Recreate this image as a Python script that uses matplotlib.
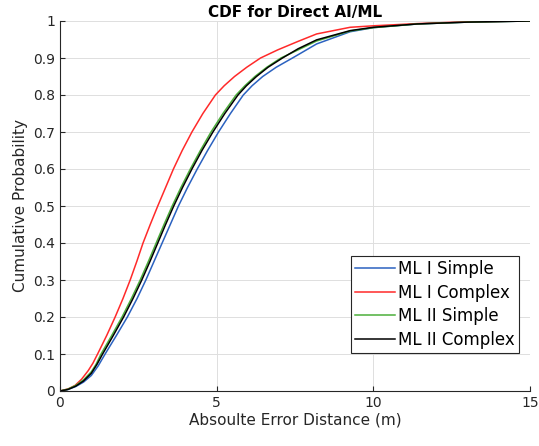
import matplotlib
import matplotlib.pyplot as plt

matplotlib.use('Agg')

# values (error distance in m, cumulative probability)
ml1_simple_x = [0, 0.25, 0.5, 0.75, 1.0, 1.22, 1.44, 1.8, 2.15, 2.46, 2.74, 3.0, 3.26, 3.52, 3.78,
                4.07, 4.38, 4.71, 5.06, 5.44, 5.85, 6.13, 6.47, 6.9, 7.42, 8.19, 9.26, 10.0, 11.4, 13.0, 15.0]
ml1_simple_y = [0, 0.004, 0.012, 0.024, 0.042, 0.068, 0.1, 0.15, 0.2, 0.25, 0.3, 0.35, 0.4, 0.45, 0.5,
                0.55, 0.6, 0.65, 0.7, 0.75, 0.8, 0.825, 0.85, 0.875, 0.9, 0.938, 0.971, 0.982, 0.992, 0.997, 1.0]

ml1_complex_x = [0, 0.27, 0.48, 0.69, 0.9, 1.05, 1.2, 1.49, 1.76, 2.01, 2.24, 2.45, 2.65, 2.88, 3.12,
                 3.37, 3.62, 3.9, 4.21, 4.56, 4.96, 5.24, 5.57, 5.96, 6.4, 6.95, 7.6, 8.19, 9.26, 10.0,
                 11.4, 13.0, 15.0]
ml1_complex_y = [0, 0.006, 0.015, 0.032, 0.055, 0.075, 0.1, 0.15, 0.2, 0.25, 0.3, 0.35, 0.4, 0.45, 0.5,
                 0.55, 0.6, 0.65, 0.7, 0.75, 0.8, 0.825, 0.85, 0.875, 0.9, 0.922, 0.945, 0.965, 0.983, 0.987,
                 0.993, 0.998, 1.0]

ml2_simple_x = [0, 0.25, 0.5, 0.75, 1.0, 1.15, 1.31, 1.65, 1.98, 2.28, 2.56, 2.82, 3.07, 3.32, 3.58,
                3.86, 4.16, 4.48, 4.82, 5.2, 5.62, 5.9, 6.22, 6.6, 7.05, 7.6, 8.19, 9.26, 10.0, 11.4, 13.0, 15.0]
ml2_simple_y = [0, 0.005, 0.015, 0.03, 0.052, 0.072, 0.1, 0.15, 0.2, 0.25, 0.3, 0.35, 0.4, 0.45, 0.5,
                0.55, 0.6, 0.65, 0.7, 0.75, 0.8, 0.825, 0.85, 0.875, 0.9, 0.922, 0.946, 0.973, 0.982, 0.992,
                0.997, 1.0]

ml2_complex_x = [0, 0.25, 0.5, 0.75, 1.0, 1.18, 1.36, 1.7, 2.03, 2.33, 2.61, 2.87, 3.12, 3.37, 3.63,
                 3.91, 4.21, 4.53, 4.88, 5.26, 5.68, 5.95, 6.27, 6.64, 7.1, 7.6, 8.19, 9.26, 10.0, 11.4,
                 13.0, 15.0]
ml2_complex_y = [0, 0.004, 0.013, 0.027, 0.048, 0.072, 0.1, 0.15, 0.2, 0.25, 0.3, 0.35, 0.4, 0.45, 0.5,
                 0.55, 0.6, 0.65, 0.7, 0.75, 0.8, 0.825, 0.85, 0.875, 0.9, 0.925, 0.949, 0.974, 0.983, 0.992,
                 0.997, 1.0]

labels = ['ML I Simple', 'ML I Complex', 'ML II Simple', 'ML II Complex']
colors = ['#2b62c0', '#ff2a2a', '#4caf3a', '#000000']

x_ticks = [0, 5, 10, 15]
y_ticks = [0, 0.1, 0.2, 0.3, 0.4, 0.5, 0.6, 0.7, 0.8, 0.9, 1]
y_tick_labels = ['0', '0.1', '0.2', '0.3', '0.4', '0.5', '0.6', '0.7', '0.8', '0.9', '1']

plt.rcParams['font.family'] = ['DejaVu Sans']
text_col = '#262626'

fig = plt.figure(figsize=(5.39, 4.46), dpi=100)
ax = fig.add_axes([60 / 539, 1 - 391 / 446, 470 / 539, 370 / 446])

series = [
    (ml1_simple_x, ml1_simple_y),
    (ml1_complex_x, ml1_complex_y),
    (ml2_simple_x, ml2_simple_y),
    (ml2_complex_x, ml2_complex_y),
]
for (xs, ys), lab, col in zip(series, labels, colors):
    ax.plot(xs, ys, color=col, lw=1.1, label=lab)

ax.set_xlim(0, 15)
ax.set_ylim(0, 1)
ax.set_xticks(x_ticks)
ax.set_yticks(y_ticks)
ax.set_yticklabels(y_tick_labels)
ax.grid(True, color='#dedede', lw=0.7)
ax.set_axisbelow(True)

for side in ['top', 'right']:
    ax.spines[side].set_visible(False)
for side in ['left', 'bottom']:
    ax.spines[side].set_color(text_col)
    ax.spines[side].set_linewidth(0.8)
ax.tick_params(direction='in', length=3.5, width=0.8, colors=text_col, labelsize=10)

ax.set_xlabel('Absoulte Error Distance (m)', fontsize=11, color=text_col, labelpad=2)
ax.set_ylabel('Cumulative Probability', fontsize=11, color=text_col, labelpad=4)
ax.set_title('CDF for Direct AI/ML', fontsize=11, fontweight='bold', pad=3)

leg = ax.legend(loc='lower right', bbox_to_anchor=(519 / 539, 1 - 353 / 446),
                bbox_transform=fig.transFigure, borderaxespad=0, fontsize=12,
                fancybox=False, framealpha=1, edgecolor=text_col,
                handlelength=2.4, handletextpad=0.2, labelspacing=0.34,
                borderpad=0.25)
leg.get_frame().set_linewidth(0.8)

fig.savefig('out.png', dpi=100)
